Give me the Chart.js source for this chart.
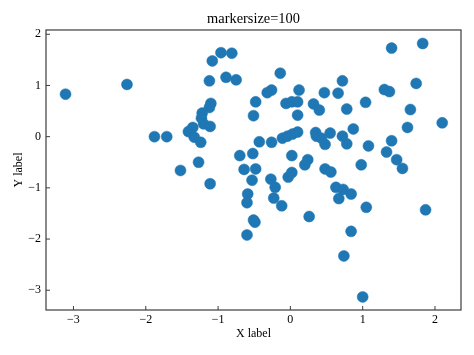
<!DOCTYPE html>
<html>
<head>
<meta charset="utf-8">
<script src="https://cdn.jsdelivr.net/npm/chart.js@4"></script>
<style>
  html, body { margin: 0; padding: 0; background: #fff; }
  #wrap { width: 474px; height: 355px; }
</style>
</head>
<body>
<div id="wrap"><canvas id="c" width="474" height="355"></canvas></div>
<script>
const titleText = 'markersize=100';
const xLabel = 'X label';
const yLabel = 'Y label';
const xTicks = [-3, -2, -1, 0, 1, 2];
const yTicks = [-3, -2, -1, 0, 1, 2];
const xRange = [-3.38, 2.36];
const yRange = [-3.386, 2.084];

const xValues = [
  -3.11, -2.26, -1.88, -1.71, -1.52, -1.11, -1.27, -0.96, -0.81, -1.08,
  -1.12, -0.89, -0.75, -1.10, -1.12, -1.22, -1.23, -1.20, -1.11, -1.35,
  -1.41, -1.33, -1.24, -0.48, -0.51, -0.43, -0.70, -0.52, -0.64, -0.48,
  -0.53, -0.59, -0.60, -0.49, -0.51, -0.60, -0.27, -0.21, -0.23, -0.12,
  -0.03, 0.02, 0.26, 0.63, 0.73, 0.84, 0.67, 1.05, 0.84, 0.74,
  1.00, 1.87, 0.48, 0.56, 0.20, 0.24, 0.98, 1.55, 1.47, 1.33,
  1.40, 1.08, 0.78, 0.72, -0.14, 0.72, -0.26, -0.32, 0.12, 0.47,
  0.66, -0.06, 0.02, 0.10, 0.10, 0.32, 0.40, 0.78, 0.87, -0.26,
  -0.11, -0.04, 0.03, 0.10, 0.35, 0.36, 0.55, 0.48, 0.43, 0.02,
  1.40, 1.83, 1.74, 1.30, 1.37, 1.04, 1.66, 1.62, 2.10
];
const yValues = [
  0.83, 1.02, 0.00, 0.00, -0.66, -0.92, -0.50, 1.64, 1.63, 1.48,
  1.09, 1.16, 1.11, 0.65, 0.57, 0.46, 0.36, 0.25, 0.20, 0.18,
  0.10, -0.01, -0.11, 0.68, 0.41, -0.10, -0.37, -0.33, -0.64, -0.63,
  -0.85, -1.12, -1.29, -1.67, -1.63, -1.92, -0.83, -0.99, -1.20, -1.35,
  -0.79, -0.70, -1.56, -0.99, -1.03, -1.12, -1.21, -1.38, -1.85, -2.33,
  -3.13, -1.43, -0.63, -0.69, -0.55, -0.45, -0.55, -0.62, -0.45, -0.30,
  -0.08, -0.18, -0.14, 0.01, 1.24, 1.09, 0.91, 0.86, 0.91, 0.86,
  0.85, 0.65, 0.68, 0.68, 0.42, 0.64, 0.52, 0.54, 0.15, -0.11,
  -0.03, 0.01, 0.05, 0.09, 0.08, 0.01, 0.07, -0.15, -0.03, -0.37,
  1.73, 1.82, 1.04, 0.92, 0.88, 0.67, 0.53, 0.18, 0.27
];

const points = xValues.map((x, i) => ({ x: x, y: yValues[i] }));
const fontFamily = '"Liberation Serif", "Times New Roman", "DejaVu Serif", serif';
const fmt = v => (v < 0 ? '\u2212' + Math.abs(v) : String(v));

const framePlugin = {
  id: 'frame',
  afterDatasetsDraw(chart) {
    const ctx = chart.ctx;
    const a = chart.chartArea;
    ctx.save();
    ctx.strokeStyle = '#3c3c3c';
    ctx.lineWidth = 1.2;
    ctx.strokeRect(a.left, a.top, a.right - a.left, a.bottom - a.top);
    const xs = chart.scales.x, ys = chart.scales.y;
    const tl = 4;
    ctx.beginPath();
    xs.ticks.forEach(t => {
      const px = xs.getPixelForValue(t.value);
      ctx.moveTo(px, a.bottom);
      ctx.lineTo(px, a.bottom - tl);
    });
    ys.ticks.forEach(t => {
      const py = ys.getPixelForValue(t.value);
      ctx.moveTo(a.left, py);
      ctx.lineTo(a.left + tl, py);
    });
    ctx.lineWidth = 1;
    ctx.stroke();
    ctx.restore();
  }
};

new Chart(document.getElementById('c'), {
  type: 'scatter',
  data: {
    datasets: [{
      data: points,
      backgroundColor: '#1f77b4',
      borderColor: '#1f77b4',
      borderWidth: 0.5,
      pointRadius: 5.5,
      pointHoverRadius: 5.5
    }]
  },
  options: {
    responsive: false,
    animation: false,
    events: [],
    layout: { padding: { left: 0, right: 13, top: 0, bottom: 0 } },
    plugins: {
      legend: { display: false },
      tooltip: { enabled: false },
      title: {
        display: true,
        text: titleText,
        fullSize: false,
        color: '#000',
        font: { family: fontFamily, size: 14.4, weight: 'normal', lineHeight: 1.2 },
        padding: { top: 10.5, bottom: 2.2 }
      }
    },
    scales: {
      x: {
        type: 'linear',
        min: xRange[0],
        max: xRange[1],
        afterBuildTicks: s => { s.ticks = xTicks.map(v => ({ value: v })); },
        afterFit: s => { s.height = 45; },
        grid: { display: false, drawTicks: false },
        border: { display: false },
        ticks: {
          color: '#000',
          padding: 3,
          maxRotation: 0,
          autoSkip: false,
          font: { family: fontFamily, size: 12 },
          callback: v => fmt(v)
        },
        title: {
          display: true,
          text: xLabel,
          color: '#000',
          font: { family: fontFamily, size: 12, lineHeight: 1.2 },
          padding: { top: 0, bottom: 14.4 }
        }
      },
      y: {
        type: 'linear',
        min: yRange[0],
        max: yRange[1],
        afterBuildTicks: s => { s.ticks = yTicks.map(v => ({ value: v })); },
        afterFit: s => { s.width = 46; },
        grid: { display: false, drawTicks: false },
        border: { display: false },
        ticks: {
          color: '#000',
          padding: 5,
          autoSkip: false,
          font: { family: fontFamily, size: 12 },
          callback: v => fmt(v)
        },
        title: {
          display: true,
          text: yLabel,
          color: '#000',
          font: { family: fontFamily, size: 12, lineHeight: 1.2 },
          padding: { top: 11.2, bottom: 0 }
        }
      }
    }
  },
  plugins: [framePlugin]
});
</script>
</body>
</html>
